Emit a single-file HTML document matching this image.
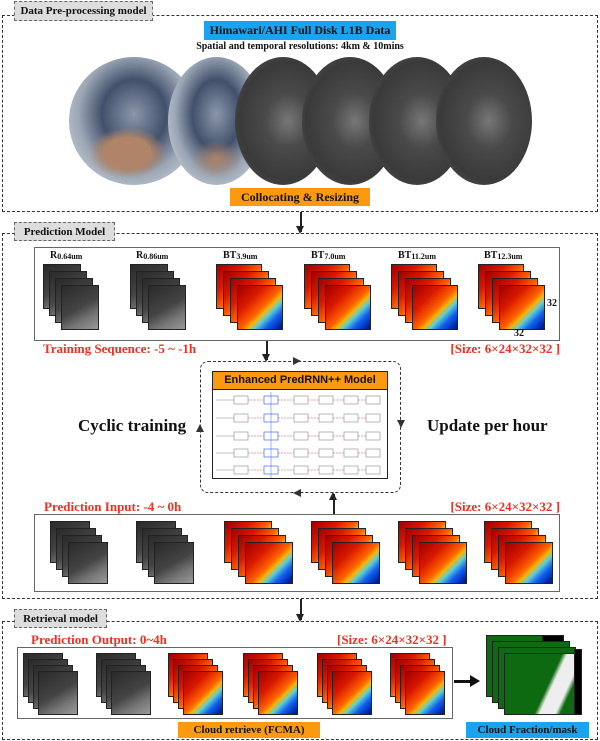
<!DOCTYPE html>
<html><head><meta charset="utf-8"><style>
*{margin:0;padding:0;box-sizing:border-box}
body{width:600px;height:741px;background:#fff;position:relative;overflow:hidden;font-family:"Liberation Serif",serif;font-weight:bold;color:#111}
.a{position:absolute}
.dash{position:absolute;border:1.5px dashed #333}
.lab{position:absolute;background:#ddd;border:1px dashed #666;font-size:11px;text-align:center;line-height:18px}
.red{position:absolute;color:#f03020;font-size:13px;white-space:nowrap}
.box{position:absolute;border:1.5px solid #666}
.st{position:absolute}
.st div{position:absolute;border:1px solid #222}
.g div{background:linear-gradient(150deg,#2a2a2a,#444 50%,#777 75%,#999)}
.c div{background:linear-gradient(135deg,#a00000 0%,#d81800 30%,#ff6000 52%,#ffb000 60%,#60d0d0 68%,#1060f0 80%,#0020a0 95%)}
.gl{position:absolute;border-radius:50%}
.gray{background:radial-gradient(ellipse at 55% 50%,#777 0%,#4a4a4a 30%,#3a3a3a 65%,#555 90%,#2a2a2a 100%)}
.arr{position:absolute;width:1.5px;background:#222}
.arr:after{content:"";position:absolute;left:-4px;bottom:-2px;border-left:4.5px solid transparent;border-right:4.5px solid transparent;border-top:8px solid #222}
.arrU{position:absolute;width:1.5px;background:#222}
.arrU:after{content:"";position:absolute;left:-4px;top:-2px;border-left:4.5px solid transparent;border-right:4.5px solid transparent;border-bottom:8px solid #222}
sub{font-size:8px;vertical-align:-1px}
.tri{position:absolute;width:0;height:0}
</style></head><body>

<!-- Section 1 -->
<div class="dash" style="left:2px;top:15px;width:596px;height:197px"></div>
<div class="lab" style="left:14px;top:1px;width:139px;height:20px">Data Pre-processing model</div>
<div class="a" style="left:204px;top:21px;width:192px;height:19px;background:#1aa3ee;font-size:12px;text-align:center;line-height:19px">Himawari/AHI Full Disk L1B Data</div>
<div class="a" style="left:0;width:600px;top:41px;font-size:10px;text-align:center">Spatial and temporal resolutions: 4km &amp; 10mins</div>
<div class="gl" style="left:69px;top:57px;width:130px;height:128px;background:radial-gradient(ellipse 30% 20% at 45% 75%,#b08468 0%,#b08468 60%,transparent 100%),radial-gradient(ellipse at 50% 45%,#8a97aa 0%,#42506c 35%,#9aa6b4 60%,#c8ced6 85%,#8c949c 100%)"></div>
<div class="gl" style="left:168px;top:57px;width:97px;height:128px;background:radial-gradient(ellipse 25% 15% at 50% 80%,#b08468 0%,transparent 100%),radial-gradient(ellipse at 50% 45%,#8a97aa 0%,#42506c 35%,#9aa6b4 60%,#c8ced6 85%,#8c949c 100%)"></div>
<div class="gl gray" style="left:235px;top:57px;width:96px;height:128px"></div>
<div class="gl gray" style="left:302px;top:57px;width:96px;height:128px"></div>
<div class="gl gray" style="left:369px;top:57px;width:96px;height:128px"></div>
<div class="gl gray" style="left:436px;top:57px;width:96px;height:128px"></div>
<div class="a" style="left:230px;top:188px;width:140px;height:18px;background:#fb9a10;font-size:12px;text-align:center;line-height:18px">Collocating &amp; Resizing</div>
<div class="arr" style="left:300px;top:212px;height:20px"></div>

<!-- Section 2 -->
<div class="dash" style="left:2px;top:233px;width:596px;height:366px"></div>
<div class="lab" style="left:14px;top:222px;width:101px;height:19px">Prediction Model</div>
<div class="box" style="left:34px;top:247px;width:526px;height:94px"></div>
<div class="a" style="left:50px;top:250px;font-size:10px">R<sub>0.64um</sub></div>
<div class="a" style="left:136px;top:250px;font-size:10px">R<sub>0.86um</sub></div>
<div class="a" style="left:223px;top:250px;font-size:10px">BT<sub>3.9um</sub></div>
<div class="a" style="left:311px;top:250px;font-size:10px">BT<sub>7.0um</sub></div>
<div class="a" style="left:398px;top:250px;font-size:10px">BT<sub>11.2um</sub></div>
<div class="a" style="left:484px;top:250px;font-size:10px">BT<sub>12.3um</sub></div>
<div class="st g" style="left:43px;top:264px"><div style="left:0;top:0;width:38px;height:45px"></div><div style="left:6px;top:7px;width:38px;height:45px"></div><div style="left:12px;top:14px;width:38px;height:45px"></div><div style="left:18px;top:21px;width:38px;height:45px"></div></div>
<div class="st g" style="left:130px;top:264px"><div style="left:0;top:0;width:38px;height:45px"></div><div style="left:6px;top:7px;width:38px;height:45px"></div><div style="left:12px;top:14px;width:38px;height:45px"></div><div style="left:18px;top:21px;width:38px;height:45px"></div></div>
<div class="st c" style="left:216px;top:264px"><div style="left:0;top:0;width:46px;height:45px"></div><div style="left:7px;top:7px;width:46px;height:45px"></div><div style="left:14px;top:14px;width:46px;height:45px"></div><div style="left:21px;top:21px;width:46px;height:45px"></div></div>
<div class="st c" style="left:304px;top:264px"><div style="left:0;top:0;width:46px;height:45px"></div><div style="left:7px;top:7px;width:46px;height:45px"></div><div style="left:14px;top:14px;width:46px;height:45px"></div><div style="left:21px;top:21px;width:46px;height:45px"></div></div>
<div class="st c" style="left:391px;top:264px"><div style="left:0;top:0;width:46px;height:45px"></div><div style="left:7px;top:7px;width:46px;height:45px"></div><div style="left:14px;top:14px;width:46px;height:45px"></div><div style="left:21px;top:21px;width:46px;height:45px"></div></div>
<div class="st c" style="left:478px;top:264px"><div style="left:0;top:0;width:46px;height:45px"></div><div style="left:7px;top:7px;width:46px;height:45px"></div><div style="left:14px;top:14px;width:46px;height:45px"></div><div style="left:21px;top:21px;width:46px;height:45px"></div></div>
<div class="a" style="left:547px;top:298px;font-size:10px">32</div>
<div class="a" style="left:514px;top:328px;font-size:10px">32</div>
<div class="red" style="left:43px;top:341px">Training Sequence: -5 ~ -1h</div>
<div class="red" style="right:40px;top:341px">[Size: 6×24×32×32 ]</div>
<div class="arr" style="left:266px;top:341px;height:19px"></div>
<div class="a" style="left:200px;top:361px;width:201px;height:132px;border:1.5px dashed #333;border-radius:8px"></div>
<div class="tri" style="left:293px;top:357px;border-left:8px solid #333;border-top:4px solid transparent;border-bottom:4px solid transparent"></div>
<div class="tri" style="left:293px;top:489px;border-right:8px solid #333;border-top:4px solid transparent;border-bottom:4px solid transparent"></div>
<div class="tri" style="left:196px;top:424px;border-bottom:8px solid #333;border-left:4px solid transparent;border-right:4px solid transparent"></div>
<div class="tri" style="left:397px;top:420px;border-top:8px solid #333;border-left:4px solid transparent;border-right:4px solid transparent"></div>
<div class="a" style="left:212px;top:371px;width:176px;height:108px;border:1.5px solid #222;background:#fff"></div>
<div class="a" style="left:212px;top:371px;width:176px;height:19px;border:1.5px solid #222;background:#fb9a10;font-family:'Liberation Sans',sans-serif;font-size:11px;text-align:center;line-height:16px">Enhanced PredRNN++ Model</div>
<svg class="a" style="left:214px;top:392px" width="172" height="86">
<g fill="#fff" stroke="#999" stroke-width="0.7">
<rect x="20" y="4" width="14" height="8"/><rect x="50" y="4" width="14" height="8" stroke="#46f"/><rect x="80" y="4" width="14" height="8"/><rect x="105" y="4" width="14" height="8"/><rect x="130" y="4" width="14" height="8"/><rect x="152" y="4" width="14" height="8"/>
<rect x="20" y="22" width="14" height="8"/><rect x="50" y="22" width="14" height="8" stroke="#46f"/><rect x="80" y="22" width="14" height="8"/><rect x="105" y="22" width="14" height="8"/><rect x="130" y="22" width="14" height="8"/><rect x="152" y="22" width="14" height="8"/>
<rect x="20" y="40" width="14" height="8"/><rect x="50" y="40" width="14" height="8" stroke="#46f"/><rect x="80" y="40" width="14" height="8"/><rect x="105" y="40" width="14" height="8"/><rect x="130" y="40" width="14" height="8"/><rect x="152" y="40" width="14" height="8"/>
<rect x="20" y="57" width="14" height="8"/><rect x="50" y="57" width="14" height="8" stroke="#46f"/><rect x="80" y="57" width="14" height="8"/><rect x="105" y="57" width="14" height="8"/><rect x="130" y="57" width="14" height="8"/><rect x="152" y="57" width="14" height="8"/>
<rect x="20" y="74" width="14" height="8"/><rect x="50" y="74" width="14" height="8" stroke="#46f"/><rect x="80" y="74" width="14" height="8"/><rect x="105" y="74" width="14" height="8"/><rect x="130" y="74" width="14" height="8"/><rect x="152" y="74" width="14" height="8"/>
</g>
<g stroke="#e44" stroke-width="0.6" stroke-dasharray="2,1">
<line x1="34" y1="8" x2="50" y2="8"/><line x1="64" y1="8" x2="80" y2="8"/><line x1="94" y1="8" x2="105" y2="8"/><line x1="119" y1="8" x2="130" y2="8"/><line x1="144" y1="8" x2="152" y2="8"/>
<line x1="34" y1="26" x2="50" y2="26"/><line x1="64" y1="26" x2="80" y2="26"/><line x1="94" y1="26" x2="105" y2="26"/><line x1="119" y1="26" x2="130" y2="26"/><line x1="144" y1="26" x2="152" y2="26"/>
<line x1="34" y1="44" x2="50" y2="44"/><line x1="64" y1="44" x2="80" y2="44"/><line x1="94" y1="44" x2="105" y2="44"/><line x1="119" y1="44" x2="130" y2="44"/><line x1="144" y1="44" x2="152" y2="44"/>
<line x1="34" y1="61" x2="50" y2="61"/><line x1="64" y1="61" x2="80" y2="61"/><line x1="94" y1="61" x2="105" y2="61"/><line x1="119" y1="61" x2="130" y2="61"/><line x1="144" y1="61" x2="152" y2="61"/>
<line x1="34" y1="78" x2="50" y2="78"/><line x1="64" y1="78" x2="80" y2="78"/><line x1="94" y1="78" x2="105" y2="78"/><line x1="119" y1="78" x2="130" y2="78"/><line x1="144" y1="78" x2="152" y2="78"/>
</g>
<g stroke="#888" stroke-width="0.5"><line x1="2" y1="8" x2="20" y2="8"/><line x1="2" y1="26" x2="20" y2="26"/><line x1="2" y1="44" x2="20" y2="44"/><line x1="2" y1="61" x2="20" y2="61"/><line x1="2" y1="78" x2="20" y2="78"/><line x1="57" y1="0" x2="57" y2="86" stroke="#46f"/></g>
</svg>
<div class="a" style="left:78px;top:416px;font-size:17px">Cyclic training</div>
<div class="a" style="left:427px;top:416px;font-size:17px">Update per hour</div>
<div class="red" style="left:44px;top:499px">Prediction Input: -4 ~ 0h</div>
<div class="red" style="right:40px;top:499px">[Size: 6×24×32×32 ]</div>
<div class="arrU" style="left:333px;top:494px;height:20px"></div>
<div class="box" style="left:34px;top:514px;width:526px;height:78px"></div>
<div class="st g" style="left:50px;top:521px"><div style="left:0;top:0;width:40px;height:42px"></div><div style="left:6px;top:7px;width:40px;height:42px"></div><div style="left:12px;top:14px;width:40px;height:42px"></div><div style="left:18px;top:21px;width:40px;height:42px"></div></div>
<div class="st g" style="left:136px;top:521px"><div style="left:0;top:0;width:40px;height:42px"></div><div style="left:6px;top:7px;width:40px;height:42px"></div><div style="left:12px;top:14px;width:40px;height:42px"></div><div style="left:18px;top:21px;width:40px;height:42px"></div></div>
<div class="st c" style="left:224px;top:521px"><div style="left:0;top:0;width:48px;height:42px"></div><div style="left:7px;top:7px;width:48px;height:42px"></div><div style="left:14px;top:14px;width:48px;height:42px"></div><div style="left:21px;top:21px;width:48px;height:42px"></div></div>
<div class="st c" style="left:311px;top:521px"><div style="left:0;top:0;width:48px;height:42px"></div><div style="left:7px;top:7px;width:48px;height:42px"></div><div style="left:14px;top:14px;width:48px;height:42px"></div><div style="left:21px;top:21px;width:48px;height:42px"></div></div>
<div class="st c" style="left:398px;top:521px"><div style="left:0;top:0;width:48px;height:42px"></div><div style="left:7px;top:7px;width:48px;height:42px"></div><div style="left:14px;top:14px;width:48px;height:42px"></div><div style="left:21px;top:21px;width:48px;height:42px"></div></div>
<div class="st c" style="left:484px;top:521px"><div style="left:0;top:0;width:48px;height:42px"></div><div style="left:7px;top:7px;width:48px;height:42px"></div><div style="left:14px;top:14px;width:48px;height:42px"></div><div style="left:21px;top:21px;width:48px;height:42px"></div></div>
<div class="arr" style="left:300px;top:599px;height:21px"></div>

<!-- Section 3 -->
<div class="dash" style="left:2px;top:621px;width:596px;height:119px"></div>
<div class="lab" style="left:14px;top:609px;width:93px;height:19px">Retrieval model</div>
<div class="red" style="left:31px;top:632px">Prediction Output: 0~4h</div>
<div class="red" style="left:337px;top:632px">[Size: 6×24×32×32 ]</div>
<div class="box" style="left:17px;top:647px;width:436px;height:72px"></div>
<div class="st g" style="left:23px;top:653px"><div style="left:0;top:0;width:40px;height:44px"></div><div style="left:5px;top:6px;width:40px;height:44px"></div><div style="left:10px;top:12px;width:40px;height:44px"></div><div style="left:15px;top:18px;width:40px;height:44px"></div></div>
<div class="st g" style="left:96px;top:653px"><div style="left:0;top:0;width:40px;height:44px"></div><div style="left:5px;top:6px;width:40px;height:44px"></div><div style="left:10px;top:12px;width:40px;height:44px"></div><div style="left:15px;top:18px;width:40px;height:44px"></div></div>
<div class="st c" style="left:168px;top:653px"><div style="left:0;top:0;width:40px;height:44px"></div><div style="left:5px;top:6px;width:40px;height:44px"></div><div style="left:10px;top:12px;width:40px;height:44px"></div><div style="left:15px;top:18px;width:40px;height:44px"></div></div>
<div class="st c" style="left:243px;top:653px"><div style="left:0;top:0;width:40px;height:44px"></div><div style="left:5px;top:6px;width:40px;height:44px"></div><div style="left:10px;top:12px;width:40px;height:44px"></div><div style="left:15px;top:18px;width:40px;height:44px"></div></div>
<div class="st c" style="left:317px;top:653px"><div style="left:0;top:0;width:40px;height:44px"></div><div style="left:5px;top:6px;width:40px;height:44px"></div><div style="left:10px;top:12px;width:40px;height:44px"></div><div style="left:15px;top:18px;width:40px;height:44px"></div></div>
<div class="st c" style="left:390px;top:653px"><div style="left:0;top:0;width:40px;height:44px"></div><div style="left:5px;top:6px;width:40px;height:44px"></div><div style="left:10px;top:12px;width:40px;height:44px"></div><div style="left:15px;top:18px;width:40px;height:44px"></div></div>
<div class="a" style="left:454px;top:680px;width:18px;height:3px;background:#111"></div>
<div class="a" style="left:470px;top:675px;border-left:10px solid #111;border-top:6.5px solid transparent;border-bottom:6.5px solid transparent"></div>
<div class="st" style="left:486px;top:635px">
<div style="left:0;top:0;width:78px;height:62px;background:#0d6a10;border:1px solid #222"></div>
<div style="left:56px;top:0;width:22px;height:7px;background:#000"></div>
<div style="left:6px;top:6px;width:78px;height:62px;background:#0d6a10;border:1px solid #222"></div>
<div style="left:12px;top:12px;width:78px;height:62px;background:#0d6a10;border:1px solid #222"></div>
<div style="left:18px;top:18px;width:78px;height:62px;background:linear-gradient(115deg,#0d6a10 55%,#eee 60%,#eee 75%,#0d6a10 80%);border:1px solid #222"></div>
<div style="left:88px;top:14px;width:8px;height:66px;background:#000"></div>
</div>
<div class="a" style="left:178px;top:722px;width:142px;height:16px;background:#fb9a10;font-size:11px;text-align:center;line-height:16px">Cloud retrieve (FCMA)</div>
<div class="a" style="left:466px;top:722px;width:123px;height:16px;background:#1aa3ee;font-size:11px;text-align:center;line-height:16px">Cloud Fraction/mask</div>
</body></html>
